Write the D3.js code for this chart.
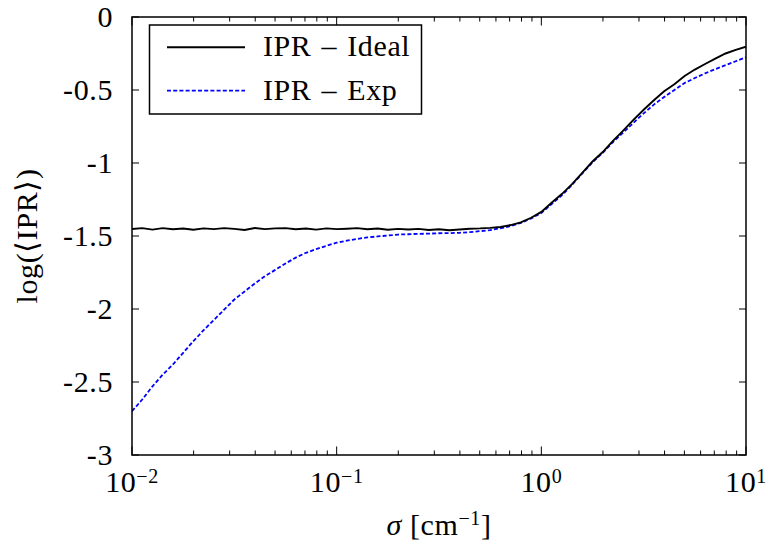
<!DOCTYPE html>
<html><head><meta charset="utf-8">
<script src="https://cdn.jsdelivr.net/npm/d3@7"></script>
<style>body{margin:0;background:#fff}svg{display:block}text{font-family:"Liberation Serif","Times New Roman",serif;fill:#000}</style>
</head><body><svg id="c" width="767" height="553"></svg>
<script>
// log10(sigma) grid
const logSigma = [-2.00,-1.95,-1.90,-1.85,-1.80,-1.75,-1.70,-1.65,-1.60,-1.55,-1.50,-1.45,-1.40,-1.35,-1.30,-1.25,-1.20,-1.15,-1.10,-1.05,-1.00,-0.95,-0.90,-0.85,-0.80,-0.75,-0.70,-0.65,-0.60,-0.55,-0.50,-0.45,-0.40,-0.35,-0.30,-0.25,-0.20,-0.15,-0.10,-0.05,0.00,0.05,0.10,0.15,0.20,0.25,0.30,0.35,0.40,0.45,0.50,0.55,0.60,0.65,0.70,0.75,0.80,0.85,0.90,0.95,1.00];
const iprIdeal = [-1.452,-1.446,-1.456,-1.446,-1.454,-1.449,-1.457,-1.448,-1.453,-1.446,-1.451,-1.459,-1.445,-1.453,-1.448,-1.446,-1.454,-1.449,-1.456,-1.448,-1.453,-1.450,-1.446,-1.454,-1.449,-1.457,-1.451,-1.455,-1.451,-1.459,-1.454,-1.461,-1.455,-1.450,-1.448,-1.444,-1.438,-1.425,-1.407,-1.375,-1.335,-1.272,-1.213,-1.145,-1.067,-0.990,-0.925,-0.848,-0.778,-0.705,-0.635,-0.570,-0.508,-0.460,-0.404,-0.360,-0.322,-0.285,-0.250,-0.225,-0.203];
const iprExp = [-2.70,-2.62,-2.53,-2.45,-2.38,-2.30,-2.22,-2.145,-2.075,-2.005,-1.935,-1.88,-1.825,-1.775,-1.732,-1.688,-1.648,-1.615,-1.590,-1.567,-1.546,-1.532,-1.520,-1.510,-1.503,-1.497,-1.490,-1.488,-1.485,-1.484,-1.481,-1.480,-1.478,-1.474,-1.467,-1.460,-1.447,-1.432,-1.410,-1.380,-1.342,-1.282,-1.222,-1.150,-1.072,-0.995,-0.930,-0.857,-0.792,-0.725,-0.660,-0.600,-0.548,-0.500,-0.452,-0.418,-0.386,-0.357,-0.330,-0.303,-0.276];
const seriesNames = ["IPR – Ideal","IPR – Exp"];
const yTicks = [0,-0.5,-1,-1.5,-2,-2.5,-3];
const yTickLabels = ["0","-0.5","-1","-1.5","-2","-2.5","-3"];
const xMajor = [0.01,0.1,1,10];
const xMajorExp = ["−2","−1","0","1"];

const svg = d3.select("#c");
const L=132,R=746,T=17,B=455;
const x = d3.scaleLog().domain([0.01,10]).range([L,R]);
const y = d3.scaleLinear().domain([-3,0]).range([B,T]);
const FS=30, SFS=20, LS="0.6px";

// minor x ticks
const xMinor=[];
[0.01,0.1,1].forEach(d=>{for(let k=2;k<=9;k++)xMinor.push(d*k);});
const g=svg.append("g");
xMinor.forEach(v=>{
  g.append("line").attr("x1",x(v)).attr("x2",x(v)).attr("y1",B).attr("y2",B-4.5).attr("stroke","#000").attr("stroke-width",1);
  g.append("line").attr("x1",x(v)).attr("x2",x(v)).attr("y1",T).attr("y2",T+4.5).attr("stroke","#000").attr("stroke-width",1);
});
xMajor.forEach(v=>{
  g.append("line").attr("x1",x(v)).attr("x2",x(v)).attr("y1",B).attr("y2",B-8.5).attr("stroke","#000").attr("stroke-width",1);
  g.append("line").attr("x1",x(v)).attr("x2",x(v)).attr("y1",T).attr("y2",T+8.5).attr("stroke","#000").attr("stroke-width",1);
});
yTicks.forEach(v=>{
  g.append("line").attr("x1",L).attr("x2",L+7).attr("y1",y(v)).attr("y2",y(v)).attr("stroke","#000").attr("stroke-width",1);
  g.append("line").attr("x1",R).attr("x2",R-7).attr("y1",y(v)).attr("y2",y(v)).attr("stroke","#000").attr("stroke-width",1);
});

// lines
const pts = (arr)=>logSigma.map((ls,i)=>[Math.pow(10,ls),arr[i]]);
const line=d3.line().x(d=>x(d[0])).y(d=>y(d[1]));
svg.append("defs").append("clipPath").attr("id","clip").append("rect").attr("x",L).attr("y",T).attr("width",R-L).attr("height",B-T);
const lg=svg.append("g").attr("clip-path","url(#clip)");
lg.append("path").attr("d",line(pts(iprExp))).attr("fill","none").attr("stroke","#0000ff").attr("stroke-width",1.8).attr("stroke-dasharray","4,2.2");
lg.append("path").attr("d",line(pts(iprIdeal))).attr("fill","none").attr("stroke","#000").attr("stroke-width",1.9);

// frame
svg.append("rect").attr("x",L).attr("y",T).attr("width",R-L).attr("height",B-T).attr("fill","none").attr("stroke","#000").attr("stroke-width",1.5);

// y tick labels
yTicks.forEach((v,i)=>{
  svg.append("text").attr("x",113).attr("y",y(v)+10).attr("text-anchor","end").attr("font-size",FS).attr("letter-spacing",LS).text(yTickLabels[i]);
});
// x tick labels
xMajor.forEach((v,i)=>{
  const t=svg.append("text").attr("x",x(v)).attr("y",491.5).attr("text-anchor","middle").attr("font-size",FS).attr("letter-spacing",LS);
  t.append("tspan").text("10");
  t.append("tspan").attr("dy",-9).attr("font-size",SFS).text(xMajorExp[i]);
});
// axis labels
const xl=svg.append("text").attr("x",(L+R)/2).attr("y",535).attr("text-anchor","middle").attr("font-size",FS).attr("letter-spacing",LS);
xl.append("tspan").attr("font-style","italic").text("σ");
xl.append("tspan").text("  [cm");
xl.append("tspan").attr("dy",-10).attr("font-size",SFS).text("−1");
xl.append("tspan").attr("dy",10).text("]");
svg.append("text").attr("transform",`translate(37,${(T+B)/2}) rotate(-90)`).attr("text-anchor","middle").attr("font-size",FS).attr("letter-spacing",LS).text("log(⟨IPR⟩)");

// legend
svg.append("rect").attr("x",149.5).attr("y",25).attr("width",272).attr("height",89).attr("fill","#fff").attr("stroke","#000").attr("stroke-width",1.5);
const lgItems=[{name:seriesNames[0],color:"#000",dash:null,w:1.9,y:47.3},{name:seriesNames[1],color:"#0000ff",dash:"4,2.2",w:1.8,y:90.7}];
lgItems.forEach(d=>{
  svg.append("line").attr("x1",167).attr("x2",245).attr("y1",d.y).attr("y2",d.y).attr("stroke",d.color).attr("stroke-width",d.w).attr("stroke-dasharray",d.dash);
  svg.append("text").attr("x",263).attr("y",d.y+9).attr("font-size",FS).attr("letter-spacing",LS).attr("word-spacing","2px").text(d.name);
});
</script></body></html>
